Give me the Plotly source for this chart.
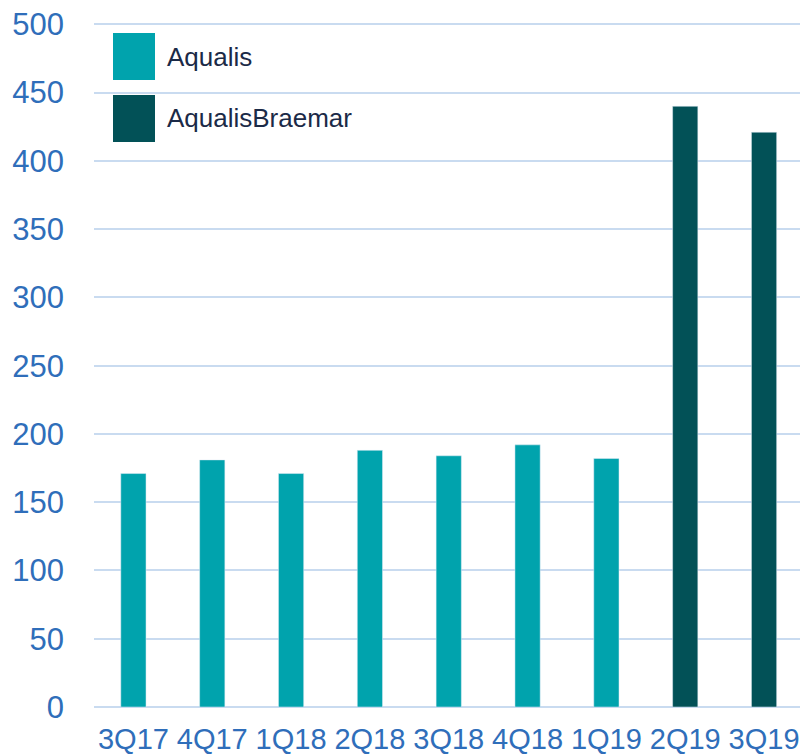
import plotly.graph_objects as go

categories = ["3Q17", "4Q17", "1Q18", "2Q18", "3Q18", "4Q18", "1Q19", "2Q19", "3Q19"]
aqualis = [171, 181, 171, 188, 184, 192, 182, None, None]
aqualis_braemar = [None, None, None, None, None, None, None, 440, 421]
series_names = ["Aqualis", "AqualisBraemar"]
colors = ["#00A3AD", "#025157"]
y_ticks = [0, 50, 100, 150, 200, 250, 300, 350, 400, 450, 500]

fig = go.Figure()
fig.add_trace(go.Bar(x=categories, y=aqualis, name=series_names[0],
                     marker_color=colors[0], width=0.32, showlegend=False))
fig.add_trace(go.Bar(x=categories, y=aqualis_braemar, name=series_names[1],
                     marker_color=colors[1], width=0.32, showlegend=False))

W, H = 800, 754
L, R, T, B = 94, 0, 23, 47
pw = W - L - R
ph = H - T - B

def px_x(px):
    return (px - L) / pw

def px_y(py):
    return (H - B - py) / ph

# custom large legend swatches (pixel coords)
legend_rows = [(33, 80, 57), (95, 142, 118)]
for (y0, y1, yc), name, col in zip(legend_rows, series_names, colors):
    fig.add_shape(type="rect", xref="paper", yref="paper",
                  x0=px_x(113), x1=px_x(155),
                  y0=px_y(y1), y1=px_y(y0),
                  fillcolor=col, line_width=0, layer="above")
    fig.add_annotation(xref="paper", yref="paper", x=px_x(165),
                       y=px_y(yc), text=name, showarrow=False,
                       xanchor="left", yanchor="middle",
                       font=dict(size=26, color="#1B2A47", family="Liberation Sans, Arial"))

fig.update_layout(
    width=W, height=H,
    margin=dict(l=L, r=R, t=T, b=B, pad=0),
    barmode="overlay",
    plot_bgcolor="white", paper_bgcolor="white",
    font=dict(family="Liberation Sans, Arial", color="#2F6EBA"),
)
fig.update_xaxes(range=[-0.5, 8.456], showgrid=False, showline=False,
                 tickfont=dict(size=29, color="#2F6EBA"),
                 ticks="", ticklabelstandoff=12, automargin=False,
                 ticklabeloverflow="allow")
fig.update_yaxes(range=[0, 501], tickvals=y_ticks, showgrid=True,
                 gridcolor="#C9DBF0", gridwidth=2, zeroline=True,
                 zerolinecolor="#C9DBF0", zerolinewidth=2,
                 tickfont=dict(size=31, color="#2F6EBA"), ticks="",
                 ticklabelstandoff=29, automargin=False,
                 ticklabeloverflow="allow")

fig.write_html("out.html", config={"displayModeBar": False},
               post_script="document.body.style.margin='0';document.body.style.overflow='hidden';")
